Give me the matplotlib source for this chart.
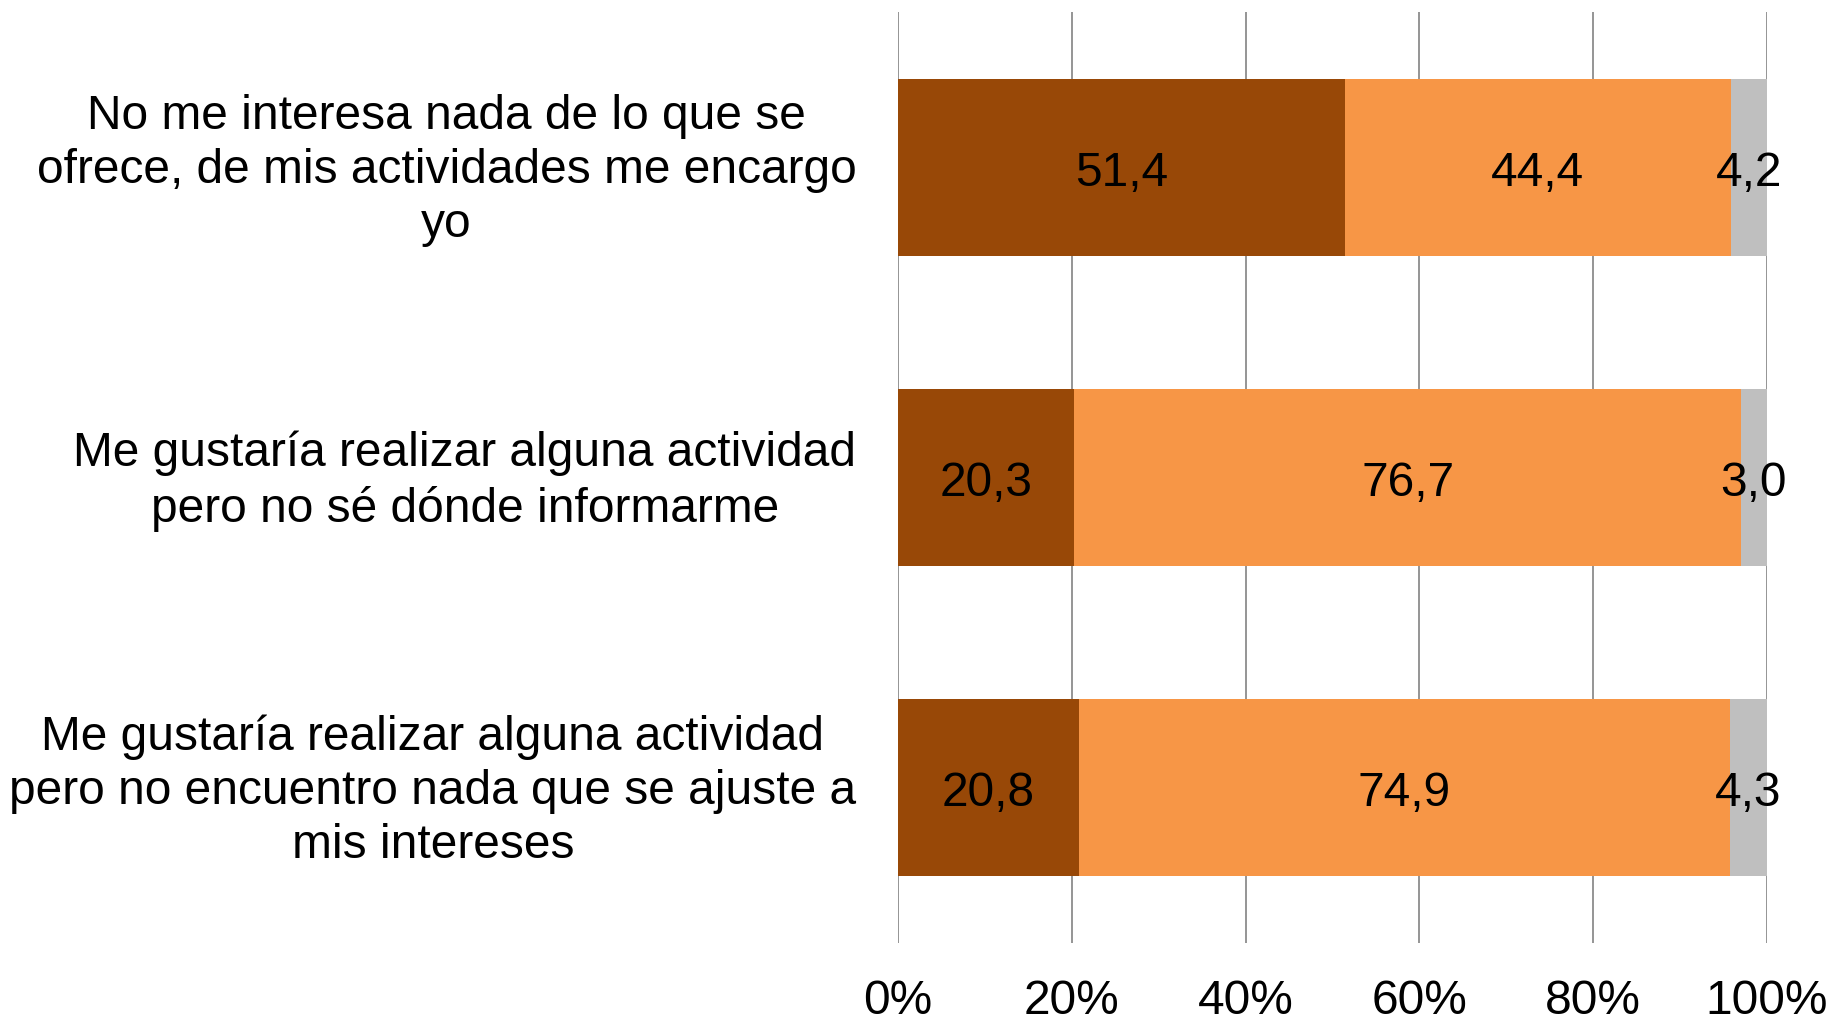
import matplotlib
matplotlib.use("Agg")
import matplotlib.pyplot as plt
import matplotlib.transforms as mtransforms
import numpy as np

plt.rcParams['font.family'] = ['Liberation Sans', 'DejaVu Sans']

categories = [
    "No me interesa nada de lo que se\nofrece, de mis actividades me encargo\nyo",
    "Me gustaría realizar alguna actividad\npero no sé dónde informarme",
    "Me gustaría realizar alguna actividad\npero no encuentro nada que se ajuste a\nmis intereses",
]
serie_1 = [51.4, 20.3, 20.8]
serie_2 = [44.4, 76.7, 74.9]
serie_3 = [4.2, 3.0, 4.3]
labels_1 = ["51,4", "20,3", "20,8"]
labels_2 = ["44,4", "76,7", "74,9"]
labels_3 = ["4,2", "3,0", "4,3"]
xticks = [0, 20, 40, 60, 80, 100]
xticklabels = ["0%", "20%", "40%", "60%", "80%", "100%"]

colors = ["#984807", "#F79646", "#BFBFBF"]

fig = plt.figure(figsize=(18.33, 10.20), dpi=100)
ax = fig.add_axes([898/1833, 76/1020, 869/1833, 931/1020])

y = np.arange(len(categories))
h = 0.57
left = np.zeros(len(categories))
for vals, labs, c in zip([serie_1, serie_2, serie_3], [labels_1, labels_2, labels_3], colors):
    vals = np.array(vals)
    ax.barh(y, vals, left=left, height=h, color=c, zorder=3)
    for yi, l, v, lab in zip(y, left, vals, labs):
        ax.text(l + v / 2, yi, lab, ha='center', va='center_baseline', fontsize=34.5,
                color='black', zorder=4)
    left = left + vals

ax.set_xlim(0, 100)
ax.set_ylim(len(categories) - 0.5, -0.5)
ax.set_xticks(xticks)
ax.set_xticklabels(xticklabels, fontsize=34.5)
ax.set_yticks(y)
ax.set_yticklabels(categories, fontsize=34.5, multialignment='center', linespacing=1.26)
ax.tick_params(axis='both', length=0)
ax.tick_params(axis='x', pad=25)
ax.tick_params(axis='y', pad=30)
offset = mtransforms.ScaledTranslation(0, 5 / 72, fig.dpi_scale_trans)
for lbl in ax.get_yticklabels():
    lbl.set_transform(lbl.get_transform() + offset)
ax.grid(axis='x', color='#8C8C8C', linewidth=1.3, zorder=0)
for s in ax.spines.values():
    s.set_visible(False)
ax.set_axisbelow(True)

fig.savefig("out.png", dpi=100)
